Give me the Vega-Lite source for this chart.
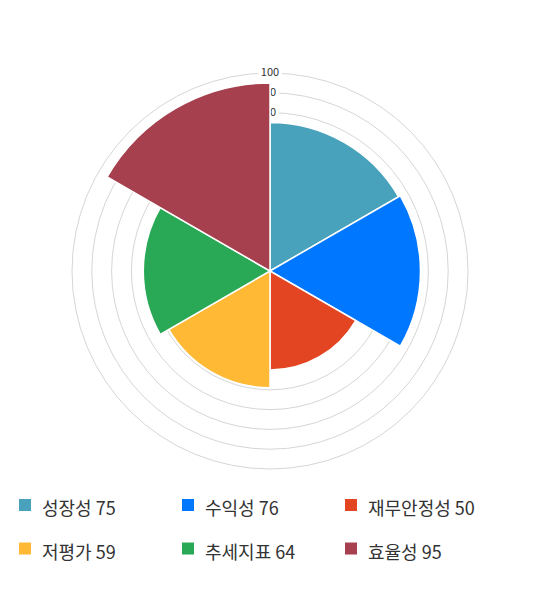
{
  "$schema": "https://vega.github.io/schema/vega-lite/v6.json",
  "width": 540,
  "height": 542,
  "padding": 0,
  "config": {"view": {"stroke": null}, "font": "Noto Sans CJK KR"},
  "datasets": {
    "scores": [
      {"name": "성장성", "value": 75, "label": "성장성 75", "a0": 0, "a1": 1},
      {"name": "수익성", "value": 76, "label": "수익성 76", "a0": 1, "a1": 2},
      {"name": "재무안정성", "value": 50, "label": "재무안정성 50", "a0": 2, "a1": 3},
      {"name": "저평가", "value": 59, "label": "저평가 59", "a0": 3, "a1": 4},
      {"name": "추세지표", "value": 64, "label": "추세지표 64", "a0": 4, "a1": 5},
      {"name": "효율성", "value": 95, "label": "효율성 95", "a0": 5, "a1": 6}
    ],
    "rings": [
      {"tick": 10, "a0": 0, "a1": 6}, {"tick": 20, "a0": 0, "a1": 6},
      {"tick": 30, "a0": 0, "a1": 6}, {"tick": 40, "a0": 0, "a1": 6},
      {"tick": 50, "a0": 0, "a1": 6}, {"tick": 60, "a0": 0, "a1": 6},
      {"tick": 70, "a0": 0, "a1": 6}, {"tick": 80, "a0": 0, "a1": 6},
      {"tick": 90, "a0": 0, "a1": 6}, {"tick": 100, "a0": 0, "a1": 6}
    ]
  },
  "layer": [
    {
      "data": {"name": "rings"},
      "mark": {"type": "arc", "fill": null, "stroke": "#d6d6d6", "strokeWidth": 1},
      "encoding": {
        "theta": {"field": "a0", "type": "quantitative", "stack": null, "scale": {"domain": [0, 6]}},
        "theta2": {"field": "a1"},
        "radius": {"field": "tick", "type": "quantitative", "scale": {"type": "linear", "domain": [0, 100], "range": [0, 198]}}
      }
    },
    {
      "data": {"name": "rings"},
      "mark": {"type": "text", "fontSize": 11, "align": "center", "baseline": "middle", "fill": "white", "stroke": "white", "strokeWidth": 7},
      "encoding": {
        "theta": {"field": "a0", "type": "quantitative", "stack": null},
        "radius": {"field": "tick", "type": "quantitative"},
        "text": {"field": "tick", "type": "quantitative"}
      }
    },
    {
      "data": {"name": "rings"},
      "mark": {"type": "text", "fontSize": 11, "align": "center", "baseline": "middle", "fill": "#333333"},
      "encoding": {
        "theta": {"field": "a0", "type": "quantitative", "stack": null},
        "radius": {"field": "tick", "type": "quantitative"},
        "text": {"field": "tick", "type": "quantitative"}
      }
    },
    {
      "data": {"name": "scores"},
      "mark": {"type": "arc", "stroke": "white", "strokeWidth": 1.5},
      "encoding": {
        "theta": {"field": "a0", "type": "quantitative", "stack": null},
        "theta2": {"field": "a1"},
        "radius": {"field": "value", "type": "quantitative"},
        "color": {
          "field": "label",
          "type": "nominal",
          "scale": {
            "domain": ["성장성 75", "수익성 76", "재무안정성 50", "저평가 59", "추세지표 64", "효율성 95"],
            "range": ["#48a2bb", "#0077ff", "#e34422", "#ffb934", "#29a855", "#a6404e"]
          },
          "legend": {
            "title": null,
            "orient": "none",
            "direction": "horizontal",
            "legendX": 16,
            "legendY": 501,
            "columns": 3,
            "gridAlign": "all",
            "columnPadding": 30,
            "rowPadding": 23.5,
            "symbolType": "M-1,-1.83H1V0.17H-1Z",
            "symbolSize": 144,
            "symbolStrokeWidth": 0,
            "symbolOpacity": 1,
            "labelFontSize": 18,
            "labelColor": "#333333",
            "labelOffset": 8,
            "labelFont": "Noto Sans CJK KR",
            "labelLimit": 300
          }
        }
      }
    }
  ]
}
